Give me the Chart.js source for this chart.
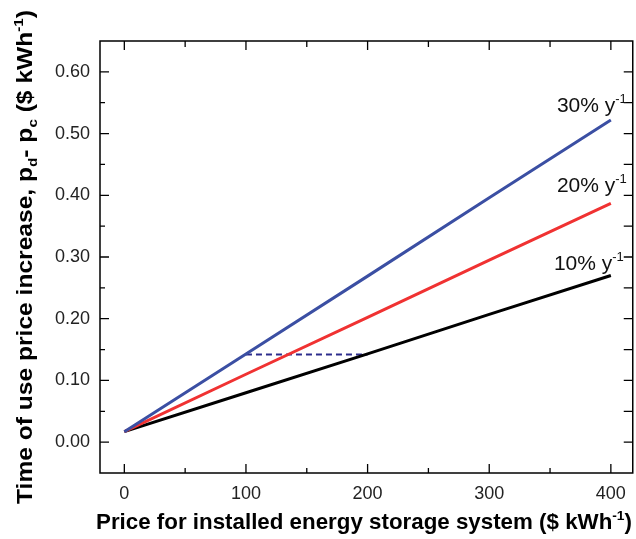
<!DOCTYPE html>
<html>
<head>
<meta charset="utf-8">
<script src="https://cdn.jsdelivr.net/npm/chart.js@4"></script>
<style>
  html, body { margin: 0; padding: 0; background: #fff; }
  #chart { display: block; }
</style>
</head>
<body>
<canvas id="chart" width="636" height="539"></canvas>
<script>
// --- data ---
const xValues = [0, 100, 200, 300, 400];
const rate30 = [0.017, 0.143, 0.269, 0.396, 0.522];
const rate20 = [0.017, 0.110, 0.202, 0.295, 0.387];
const rate10 = [0.017, 0.080, 0.143, 0.207, 0.270];
const crossX = [100, 200];
const crossY = [0.142, 0.142];
const seriesNames = ["30%", "20%", "10%"];
const xTicks = [0, 100, 200, 300, 400];
const xMinor = [50, 150, 250, 350];
const yTicks = [0, 0.1, 0.2, 0.3, 0.4, 0.5, 0.6];
const yMinor = [0.05, 0.15, 0.25, 0.35, 0.45, 0.55];

const FONT = "'Liberation Sans', Arial, sans-serif";
const colors = ["#3b4fa3", "#f03232", "#000000"];

const toPts = (xs, ys) => xs.map((x, i) => ({ x, y: ys[i] }));

// draws text runs with sub/superscripts, returns width
function runs(ctx, parts, x, y, size, weight, measureOnly) {
  let cx = x;
  parts.forEach(p => {
    const s = p.small ? size * 0.62 : size;
    ctx.font = `${weight} ${s}px ${FONT}`;
    const dy = p.sup ? -size * 0.42 : p.sub ? size * 0.22 : 0;
    if (!measureOnly) ctx.fillText(p.t, cx, y + dy);
    cx += ctx.measureText(p.t).width;
  });
  return cx - x;
}

const decor = {
  id: "decor",
  afterDraw(chart) {
    const { ctx, chartArea: a, scales: { x, y } } = chart;
    ctx.save();
    // frame
    ctx.strokeStyle = "#000";
    ctx.lineWidth = 1.5;
    ctx.strokeRect(a.left, a.top, a.right - a.left, a.bottom - a.top);
    // inward ticks
    ctx.lineWidth = 1.3;
    ctx.beginPath();
    const xt = (v, len, lenTop) => {
      const px = x.getPixelForValue(v);
      ctx.moveTo(px, a.bottom); ctx.lineTo(px, a.bottom - len);
      ctx.moveTo(px, a.top); ctx.lineTo(px, a.top + lenTop);
    };
    const yt = (v, len, lenRight) => {
      const py = y.getPixelForValue(v);
      ctx.moveTo(a.left, py); ctx.lineTo(a.left + len, py);
      ctx.moveTo(a.right, py); ctx.lineTo(a.right - lenRight, py);
    };
    xTicks.forEach(v => xt(v, 9, 9));
    xMinor.forEach(v => xt(v, 5, 6));
    yTicks.forEach(v => yt(v, 9, 9));
    yMinor.forEach(v => yt(v, 5, 9));
    ctx.stroke();

    // series labels at line ends
    ctx.fillStyle = "#111";
    ctx.textBaseline = "alphabetic";
    ctx.textAlign = "left";
    const ends = [rate30, rate20, rate10];
    const lift = [8, 11, 6];
    ends.forEach((arr, i) => {
      const px = x.getPixelForValue(xValues[xValues.length - 1]);
      const py = y.getPixelForValue(arr[arr.length - 1]);
      const parts = [{ t: seriesNames[i] + " y" }, { t: "-1", sup: true, small: true }];
      const w = runs(ctx, parts, 0, 0, 21, "normal", true);
      runs(ctx, parts, px + 16 - w - (i === 2 ? 3 : 0), py - lift[i], 21, "normal");
    });

    // x axis title
    ctx.fillStyle = "#000";
    const xParts = [
      { t: "Price for installed energy storage system ($ kWh" },
      { t: "-1", sup: true, small: true },
      { t: ")" }
    ];
    const xw = runs(ctx, xParts, 0, 0, 22, "bold", true);
    const xTarget = 536;
    ctx.save();
    ctx.translate(96, 529);
    ctx.scale(xTarget / xw, 1);
    runs(ctx, xParts, 0, 0, 22, "bold");
    ctx.restore();

    // y axis title
    const yParts = [
      { t: "Time of use price increase, p" },
      { t: "d", sub: true, small: true },
      { t: "- p" },
      { t: "c", sub: true, small: true },
      { t: " ($ kWh" },
      { t: "-1", sup: true, small: true },
      { t: ")" }
    ];
    const yw = runs(ctx, yParts, 0, 0, 22, "bold", true);
    const yTarget = 494;
    ctx.save();
    ctx.translate(32, 504);
    ctx.rotate(-Math.PI / 2);
    ctx.scale(yTarget / yw, 1);
    runs(ctx, yParts, 0, 0, 22, "bold");
    ctx.restore();

    ctx.restore();
  }
};

new Chart(document.getElementById("chart"), {
  type: "line",
  data: {
    datasets: [
      { label: "30%", data: toPts(xValues, rate30), borderColor: colors[0], borderWidth: 3, pointRadius: 0 },
      { label: "20%", data: toPts(xValues, rate20), borderColor: colors[1], borderWidth: 3, pointRadius: 0 },
      { label: "10%", data: toPts(xValues, rate10), borderColor: colors[2], borderWidth: 3, pointRadius: 0 },
      { label: "cross", data: toPts(crossX, crossY), borderColor: "#2c2c8c", borderWidth: 2, borderDash: [6, 4], pointRadius: 0 }
    ]
  },
  options: {
    responsive: false,
    animation: false,
    devicePixelRatio: 1,
    layout: { padding: { left: 0, top: 41, right: 3, bottom: 0 } },
    plugins: { legend: { display: false }, tooltip: { enabled: false } },
    scales: {
      x: {
        type: "linear",
        min: -20,
        max: 418,
        grid: { display: false, drawTicks: false },
        border: { display: false },
        afterBuildTicks: s => { s.ticks = xTicks.map(v => ({ value: v })); },
        afterFit: s => { s.height = 66; },
        ticks: { padding: 10, color: "#222", font: { family: FONT, size: 18 }, maxRotation: 0, callback: v => String(v) }
      },
      y: {
        min: -0.05,
        max: 0.65,
        grid: { display: false, drawTicks: false },
        border: { display: false },
        afterBuildTicks: s => { s.ticks = yTicks.map(v => ({ value: v })); },
        afterFit: s => { s.width = 100; },
        ticks: { padding: 10, color: "#222", font: { family: FONT, size: 18 }, callback: v => v.toFixed(2) }
      }
    }
  },
  plugins: [decor]
});
</script>
</body>
</html>
